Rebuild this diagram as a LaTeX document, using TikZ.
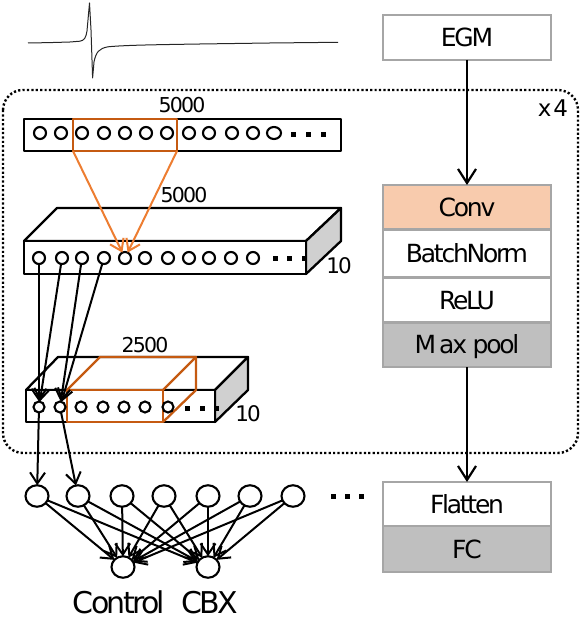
\documentclass[tikz,border=0pt]{standalone}
\usepackage{fontspec}
\setmainfont{DejaVu Sans}[LetterSpace=-9]
\usetikzlibrary{arrows.meta,shapes.geometric}
\definecolor{peach}{HTML}{F8CBAD}
\definecolor{gfill}{HTML}{BFBFBF}
\definecolor{gline}{HTML}{A6A6A6}
\definecolor{oline}{HTML}{ED7D31}
\definecolor{obox}{HTML}{C55A11}
\definecolor{sidegray}{HTML}{D0D0D0}
\begin{document}
\begin{tikzpicture}[x=1pt,y=-1pt,
  every node/.style={inner sep=0pt,outer sep=0pt},
  layer/.style={draw=gline,line width=2.2pt,minimum width=168pt,
    font=\fontsize{25}{30}\selectfont,text height=18.3pt,text depth=0pt},
  bigarr/.style={line width=2.2pt,-{Straight Barb[length=14pt,width=18pt]}},
  arr/.style={line width=2pt,-{Straight Barb[length=11pt,width=15pt]}},
  oarr/.style={draw=oline,line width=2pt,-{Straight Barb[length=11pt,width=15pt]}},
  bl/.style={line width=2.3pt,line join=round},
  ob/.style={draw=obox,line width=2.3pt,line join=round},
  neu/.style={circle,draw,line width=2.1pt,minimum size=12pt},
  neus/.style={circle,draw,line width=2.1pt,minimum size=11pt},
  fcn/.style={ellipse,draw,line width=2.1pt,minimum width=23pt,minimum height=21.5pt},
  num/.style={font=\fontsize{20.5}{24}\selectfont,text height=15pt,text depth=0pt},
  dimlab/.style={font=\fontsize{21.5}{25}\selectfont,text height=15.7pt,text depth=0pt},
  outlab/.style={font=\fontsize{30}{34}\selectfont,text height=22pt,text depth=1pt,inner xsep=2pt},
  dotsq/.style={fill=black}
]
\useasboundingbox (0,0) rectangle (581,617);

% waveform
\draw[line width=1pt,black!85,line join=round]
  (28,43) -- (50,42.6) -- (70,42) -- (80,41.2) .. controls (84,40.5) and (86,38) .. (87,31)
  -- (89.5,3) -- (91,30) -- (92.6,78) -- (94,62)
  .. controls (96,52) and (99,48.5) .. (108,46.8)
  .. controls (125,45.2) and (150,44.8) .. (200,44)
  -- (270,43) -- (338,42.3);

% dotted repeat frame
\draw[line width=2.4pt,dash pattern=on 2.2pt off 2.2pt,rounded corners=20pt] (3,90) rectangle (578,453);
\node[font=\fontsize{23}{27}\selectfont,text height=16.8pt,text depth=0pt] (rep) at (553,108.5) {x\kern2pt 4};

% layer stack
\node[layer] (egm) at (467,37.5) [minimum height=45pt] {EGM};
\node[layer,fill=peach] (conv) at (467,207.25) [minimum height=44.5pt] {Conv};
\node[layer] (bn) at (467,253.5) [minimum height=48pt] {BatchNorm};
\node[layer] (relu) at (467,300) [minimum height=45pt] {ReLU};
\node[layer,fill=gfill] (maxp) at (467,344.75) [minimum height=44.5pt] {M\kern3pt ax pool};
\node[layer] (flat) at (467,504) [minimum height=44pt] {Flatten};
\node[layer,fill=gfill] (fc) at (467,549) [minimum height=46pt] {FC};
\draw[bigarr] (egm) -- (conv);
\draw[bigarr] (maxp) -- (flat);

% ---- top row (input) ----
\draw[bl] (24,119) rectangle (341,151);
\node[ob,minimum width=104pt,minimum height=32pt] (win) at (125,135) {};
\node[num] (n1) at (182,105) {5000};
\foreach \i/\x in {1/40,2/61,3/82,4/104,5/125,6/146,7/167,8/189,9/209,10/232,11/253}
  \node[neu] (a\i) at (\x,133) {};
\node[ellipse,draw,line width=2.1pt,minimum width=14pt,minimum height=12pt] (a12) at (274,133) {};
\foreach \x in {293,308,323} \fill[dotsq] (\x-2.5,132) rectangle +(5,5);

% ---- middle block ----
\draw[bl,fill=white] (24,241) -- (57,208) -- (341,208) -- (306,241) -- cycle;
\draw[bl,fill=sidegray] (306,241) -- (341,208) -- (341,241) -- (306,274) -- cycle;
\draw[bl,fill=white] (24,241) rectangle (306,274);
\node[num] (n2) at (184,195) {5000};
\node[dimlab] (d2) at (339,266) {10};
\foreach \i/\x in {1/39,2/62,3/82,4/104,5/125,6/145,7/168,8/189,9/209,10/231,11/253}
  \node[neu] (m\i) at (\x,258) {};
\foreach \x in {275,289,304} \fill[dotsq] (\x-2.5,256) rectangle +(5,5);

% convolution window arrows
\coordinate (wl) at (win.south west);
\coordinate (wr) at (win.south east);
\draw[oarr] (wl) -- (m5);
\draw[oarr] (wr) -- (m5);

% ---- pooled block ----
\draw[bl,fill=white] (26,390) -- (58,357) -- (248,357) -- (215,390) -- cycle;
\draw[bl,fill=sidegray] (215,390) -- (248,357) -- (248,390) -- (215,422) -- cycle;
\draw[bl,fill=white] (26,390) rectangle (215,422);
\draw[ob] (67,390) rectangle (163,422);
\draw[ob] (67,390) -- (100,357) -- (196,357) -- (163,390);
\draw[ob] (196,357) -- (196,390) -- (163,422);
\node[num] (n3) at (145,345) {2500};
\node[dimlab] (d3) at (248,414) {10};
\foreach \i/\x in {1/39,2/60,3/81,4/103,5/124,6/145,7/168}
  \node[neus] (t\i) at (\x,407) {};
\foreach \x in {187,202,216} \fill[dotsq] (\x-2.5,405.5) rectangle +(5,5);

% pooling connections
\draw[arr] (m1) -- (t1);
\draw[arr] (m2) -- (t1);
\draw[arr] (m3) -- (t2);
\draw[arr] (m4) -- (t2);

% ---- fully connected ----
\foreach \i/\x in {1/37,2/78,3/122,4/164,5/208,6/250,7/293}
  \node[fcn] (f\i) at (\x,496) {};
\foreach \x in {333,347,361} \fill[dotsq] (\x-2.5,493.5) rectangle +(5,5);
\draw[arr] (t1) -- (f1);
\draw[arr] (t2) -- (f2);

\node[fcn] (o1) at (123,567) {};
\node[fcn] (o2) at (208,567) {};
\foreach \i in {1,...,7} {
  \draw[arr] (f\i) -- (o1);
  \draw[arr] (f\i) -- (o2);
}
\node[outlab] (lc) at (120.5,602.5) {Control\kern3pt};
\node[outlab] (lx) at (211.5,602.5) {CBX\kern3pt};
\end{tikzpicture}
\end{document}
